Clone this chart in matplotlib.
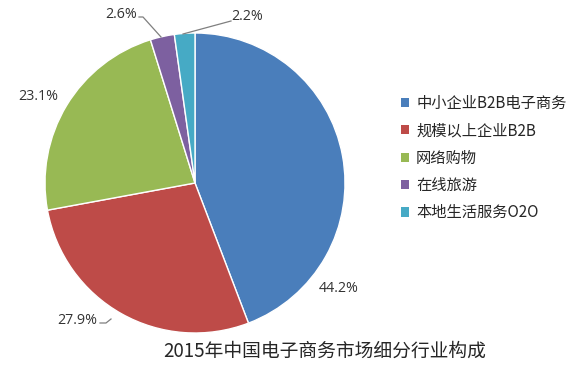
import matplotlib
matplotlib.use("Agg")
import matplotlib.pyplot as plt
from matplotlib.patches import Patch

plt.rcParams['font.family'] = ['Noto Sans CJK SC', 'DejaVu Sans']

categories = ['中小企业B2B电子商务', '规模以上企业B2B', '网络购物', '在线旅游', '本地生活服务O2O']
values = [44.2, 27.9, 23.1, 2.6, 2.2]
colors = ['#4a7ebb', '#be4b48', '#98b954', '#7d60a0', '#46aac5']
title = '2015年中国电子商务市场细分行业构成'

W, H = 574, 368
fig = plt.figure(figsize=(W / 100, H / 100), dpi=100)

def fx(x):
    return x / W

def fy(y):
    return 1 - y / H

cx, cy, R = 195, 183, 150
ax = fig.add_axes([fx(cx - R), fy(cy + R), 2 * R / W, 2 * R / H])
wedges, _ = ax.pie(values, colors=colors, startangle=90, counterclock=False,
                   radius=1.0, wedgeprops=dict(edgecolor='white', linewidth=1.0))
ax.set_xlim(-1, 1)
ax.set_ylim(-1, 1)
ax.set_aspect('equal')
ax.axis('off')

lab_color = '#333333'
fs = 10.3
# label positions (pixels)
label_pos = [(339, 288), (77, 321), (38, 96), (121, 15), (247, 17)]
for v, (x, y) in zip(values, label_pos):
    fig.text(fx(x), fy(y), f'{v}%', ha='center', va='center', fontsize=fs,
             color=lab_color, family=['Open Sans', 'DejaVu Sans'])

# leader lines
line_color = '#7f7f7f'
fig.add_artist(plt.Line2D([fx(139), fx(143), fx(161)], [fy(17), fy(17), fy(37)],
                          color=line_color, lw=0.9, transform=fig.transFigure))
fig.add_artist(plt.Line2D([fx(231), fx(183)], [fy(21), fy(34)],
                          color=line_color, lw=0.9, transform=fig.transFigure))
fig.add_artist(plt.Line2D([fx(100), fx(106), fx(111)], [fy(323), fy(323), fy(319)],
                          color=line_color, lw=0.9, transform=fig.transFigure))

handles = [Patch(facecolor=c, edgecolor='none') for c in colors]
fig.legend(handles, categories, loc='upper left', bbox_to_anchor=(fx(387), fy(81)),
           frameon=False, fontsize=11, handlelength=0.55, handleheight=0.55,
           handletextpad=0.45, labelspacing=0.68, labelcolor='#262626')

fig.text(fx(325), fy(351), title, ha='center', va='center', fontsize=13.5,
         color='#262626')

fig.savefig('out.png', dpi=100)
